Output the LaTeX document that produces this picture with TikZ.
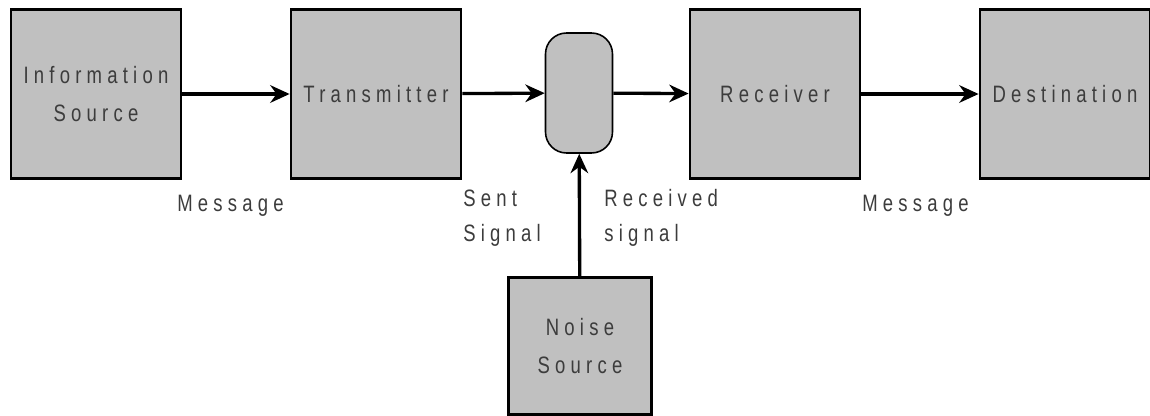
\documentclass[tikz,border=0pt]{standalone}
\usepackage{fontspec}
\setmainfont{Liberation Sans}[FakeStretch=0.78, LetterSpace=22]
\usetikzlibrary{arrows.meta, positioning}
\definecolor{boxgray}{RGB}{192,192,192}
\definecolor{txtgray}{RGB}{60,60,60}

\begin{document}
\begin{tikzpicture}[x=0.02cm, y=-0.02cm,
    block/.style={draw, line width=1.6pt, fill=boxgray, inner sep=0pt,
        minimum width=3.4cm, minimum height=3.38cm, text=txtgray,
        align=center, font=\fontsize{13.5}{21.5}\selectfont},
    chan/.style={draw, line width=0.9pt, fill=boxgray, rounded corners=0.42cm,
        minimum width=1.34cm, minimum height=2.4cm, inner sep=0pt},
    lbl/.style={text=txtgray, align=left, inner sep=0pt,
        font=\fontsize{13.5}{20}\selectfont},
    flow/.style={line width=1.9pt, -{Stealth[length=11pt, width=10pt]}}]
    % Frame
    \useasboundingbox (0,0) rectangle (1150,416);

    % Blocks
    \node[block] (info) at (96,94) {Information\\Source};
    \node[block] (tx) at (376,94) {Transmitter};
    \node[chan] (chan) at (579,93) {};
    \node[block] (rx) at (775,94) {Receiver};
    \node[block] (dest) at (1065,94) {Destination};
    \node[block, minimum width=2.86cm, minimum height=2.74cm] (noise) at (580,346) {Noise\\Source};

    % Connectors
    \draw[flow] (info) -- (tx);
    \draw[flow] (tx) -- (chan);
    \draw[flow] (chan) -- (rx);
    \draw[flow] (rx) -- (dest);
    \draw[flow] (noise) -- (chan);

    % Labels
    \node[lbl, anchor=west] (msgin) at (177,206) {Message};
    \node[lbl, anchor=west] (sent) at (463,218) {Sent\\Signal};
    \node[lbl, anchor=west] (recv) at (604,218) {Received\\signal};
    \node[lbl, anchor=west] (msgout) at (862,206) {Message};
\end{tikzpicture}
\end{document}
